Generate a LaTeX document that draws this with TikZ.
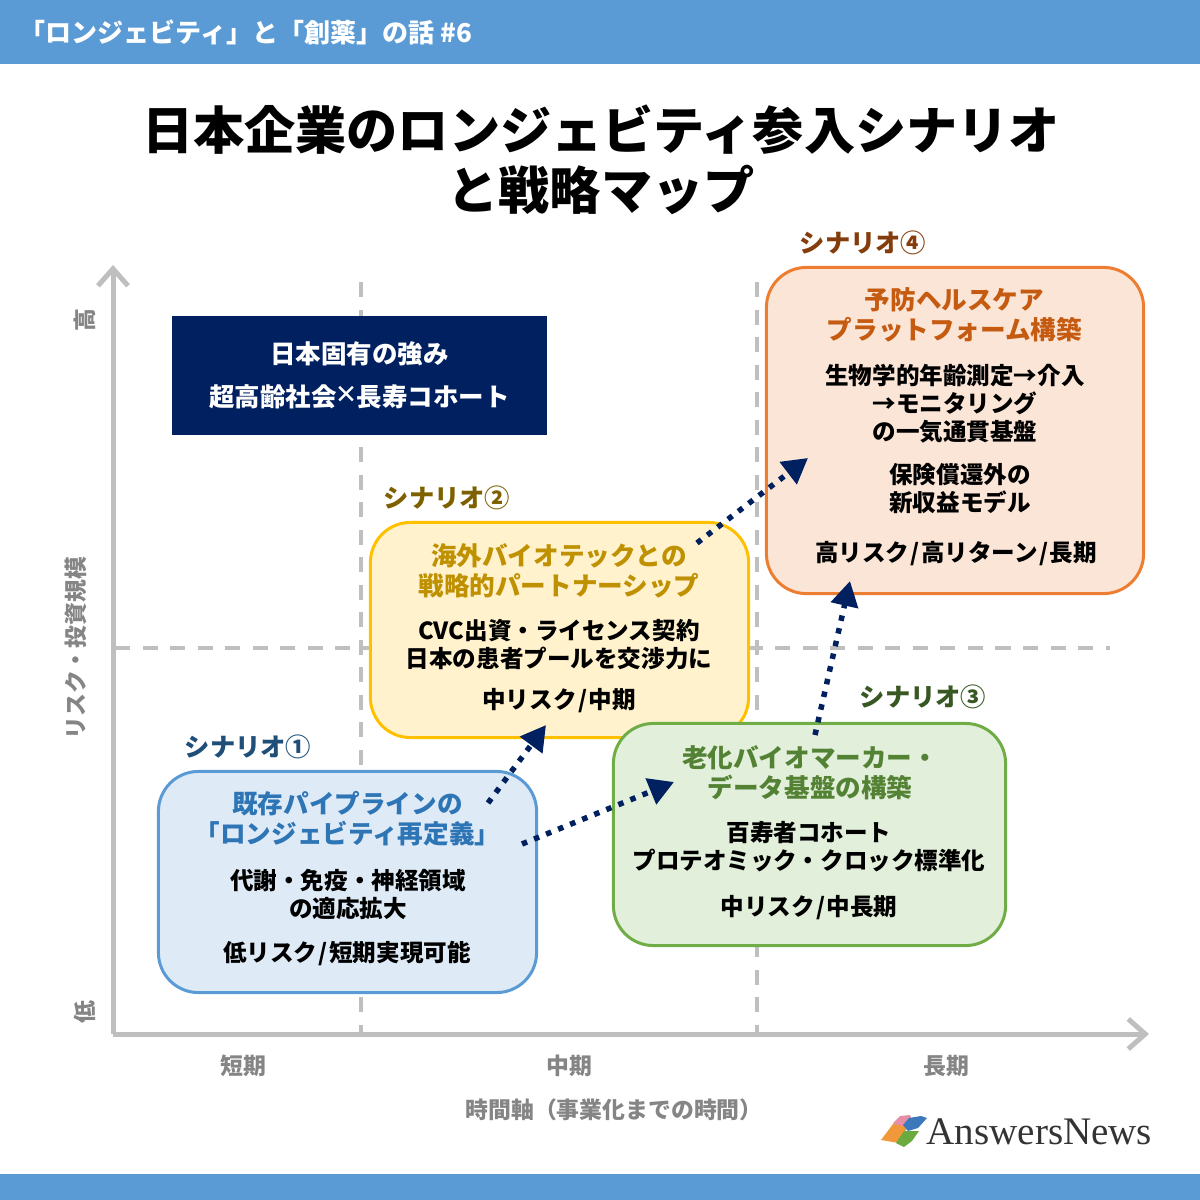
\documentclass[tikz,border=0pt]{standalone}
\usepackage{fontspec}
\setmainfont{Noto Sans CJK JP}
\newfontfamily\logofont{Liberation Serif}
\newfontfamily\signfont{Noto Sans}
\usetikzlibrary{arrows.meta}

\definecolor{barblue}{HTML}{5B9BD5}
\definecolor{navy}{HTML}{002060}
\definecolor{axisgray}{HTML}{BFBFBF}
\definecolor{labelgray}{HTML}{858585}
\definecolor{fillA}{HTML}{DEEAF6}
\definecolor{fillB}{HTML}{FFF2CC}
\definecolor{fillC}{HTML}{E2EFDA}
\definecolor{fillD}{HTML}{FBE5D6}
\definecolor{edgeA}{HTML}{5B9BD5}
\definecolor{edgeB}{HTML}{FFC000}
\definecolor{edgeC}{HTML}{70AD47}
\definecolor{edgeD}{HTML}{ED7D31}
\definecolor{tagA}{HTML}{1F4E79}
\definecolor{tagB}{HTML}{7F6000}
\definecolor{tagC}{HTML}{385723}
\definecolor{tagD}{HTML}{843C0C}
\definecolor{headA}{HTML}{2E75B6}
\definecolor{headB}{HTML}{BF9000}
\definecolor{headC}{HTML}{548235}
\definecolor{headD}{HTML}{C55A11}
\definecolor{pieceP}{HTML}{E58FA6}
\definecolor{pieceO}{HTML}{F0983A}
\definecolor{pieceG}{HTML}{6BAA3E}
\definecolor{pieceB}{HTML}{3B78BC}

\newcommand{\sla}{\kern0.4pt/\kern0.4pt}

\tikzset{
  scenbox/.style={draw=#1,line width=0.03cm,rounded corners=0.4cm,inner sep=0pt},
  scentag/.style={text=#1,font=\fontsize{7.2}{9}\selectfont\bfseries},
  scenhead/.style={text=#1,align=center,font=\fontsize{7.28}{8.55}\selectfont\bfseries},
  scenbody/.style={text=black,align=center,font=\fontsize{6.7}{7.97}\selectfont\bfseries},
  axislabel/.style={text=labelgray,font=\fontsize{6.5}{8}\selectfont\bfseries},
  grid/.style={draw=axisgray,line width=0.033cm,dash pattern=on 0.15cm off 0.125cm},
  axis/.style={draw=axisgray,line width=0.05cm,-{Straight Barb[length=0.17cm,width=0.3cm,line width=0.05cm]}},
  step arrow/.style={draw=navy,line width=0.055cm,dash pattern=on 0.055cm off 0.075cm,-{Triangle[length=0.25cm,width=0.27cm]}},
}

\begin{document}
\begin{tikzpicture}[x=0.01cm,y=-0.01cm]
\useasboundingbox (0,0) rectangle (1200,1200);
\fill[barblue] (0,0) rectangle (1200,64);
\fill[barblue] (0,1174) rectangle (1200,1200);
\node[anchor=west,inner sep=0pt,text=white,font=\fontsize{7.4}{9}\selectfont\bfseries] (header) at (19,32) {「ロンジェビティ」と「創薬」の話 \#6};
\node[align=center,inner sep=0pt,font=\fontsize{14.55}{17.1}\selectfont\bfseries] (title) at (601,160) {日本企業のロンジェビティ参入シナリオ\\と戦略マップ};

% axes and quadrant lines
\draw[grid] (361,282) -- (361,1034);
\draw[grid] (757,282) -- (757,1034);
\draw[grid] (115,648) -- (1110,648);
\coordinate (origin) at (113,1034);
\coordinate (yend) at (113,265);
\coordinate (xend) at (1149,1034);
\draw[axis] (origin) -- (yend);
\draw[axis] (origin) -- (xend);

\node[axislabel] (short) at (243,1066) {短期};
\node[axislabel] (middle) at (569,1066) {中期};
\node[axislabel] (long) at (946,1066) {長期};
\node[axislabel] (xlabel) at (614,1110) {時間軸（事業化までの時間）};
\node[axislabel,rotate=90] (high) at (85,320) {高};
\node[axislabel,rotate=90] (low) at (85,1012) {低};
\node[axislabel,rotate=90] (ylabel) at (76,648) {リスク・投資規模};

\node[fill=navy,minimum width=3.75cm,minimum height=1.19cm,inner sep=0pt] (strength) at (359.5,375.5) {};
\node[text=white,align=center,font=\fontsize{7.25}{12.2}\selectfont\bfseries] (strengthtext) at (359.5,375.5) {日本固有の強み\\超高齢社会{\signfont\fontsize{10}{12.2}\selectfont ×}長寿コホート};

% scenario boxes
\node[scenbox=edgeA,fill=fillA,minimum width=3.78cm,minimum height=2.21cm] (boxA) at (347.5,882) {};
\node[scenbox=edgeB,fill=fillB,minimum width=3.78cm,minimum height=2.15cm] (boxB) at (559.5,630) {};
\node[scenbox=edgeC,fill=fillC,minimum width=3.92cm,minimum height=2.22cm] (boxC) at (809.5,834.5) {};
\node[scenbox=edgeD,fill=fillD,minimum width=3.77cm,minimum height=3.26cm] (boxD) at (955,430.5) {};

\node[scentag=tagA] (labelA) at (248,747) {シナリオ①};
\node[scenhead=headA] (titleA) at (347.5,819) {既存パイプラインの\\「ロンジェビティ再定義」};
\node[scenbody] (bodyA) at (348,894) {代謝・免疫・神経領域\\の適応拡大};
\node[scenbody] (riskA) at (347,953) {低リスク\sla 短期実現可能};

\node[scentag=tagB] (labelB) at (447,498) {シナリオ②};
\node[scenhead=headB] (titleB) at (559,570.5) {海外バイオテックとの\\戦略的パートナーシップ};
\node[scenbody] (bodyB) at (559,645) {CVC出資・ライセンス契約\\日本の患者プールを交渉力に};
\node[scenbody] (riskB) at (559,701) {中リスク\sla 中期};

\node[scentag=tagC] (labelC) at (923,697) {シナリオ③};
\node[scenhead=headC] (titleC) at (810,773) {老化バイオマーカー・\\データ基盤の構築};
\node[scenbody] (bodyC) at (809,847) {百寿者コホート\\プロテオミック・クロック標準化};
\node[scenbody] (riskC) at (809,908) {中リスク\sla 中長期};

\node[scentag=tagD] (labelD) at (863,243) {シナリオ④};
\node[scenhead=headD] (titleD) at (954.5,315) {予防ヘルスケア\\プラットフォーム構築};
\node[scenbody] (bodyD) at (955,404) {生物学的年齢測定→介入\\→モニタリング\\の一気通貫基盤};
\node[scenbody] (modelD) at (960,489) {保険償還外の\\新収益モデル};
\node[scenbody] (riskD) at (956,554) {高リスク\sla 高リターン\sla 長期};

% dotted steps between scenarios
\coordinate (stepAs) at (488,803);
\coordinate (stepAe) at (546,725);
\coordinate (stepBs) at (522,844);
\coordinate (stepBe) at (674,782);
\coordinate (stepCs) at (815,735);
\coordinate (stepCe) at (850,581);
\coordinate (stepDs) at (697,543);
\coordinate (stepDe) at (808,458);
\draw[step arrow] (stepAs) -- (stepAe);
\draw[step arrow] (stepBs) -- (stepBe);
\draw[step arrow] (stepCs) -- (stepCe);
\draw[step arrow] (stepDs) -- (stepDe);

% logo
\fill[pieceP] (893,1123) -- (900,1116) -- (910,1115) -- (912,1120) -- (907,1128) -- (897,1128) -- cycle;
\fill[pieceO] (881,1140) -- (893,1124) -- (908,1127) -- (903,1134) -- (899,1143) -- cycle;
\fill[pieceG] (896,1143) -- (904,1131) -- (919,1131) -- (912,1141) -- (904,1147) -- cycle;
\fill[pieceB] (903,1125) -- (909,1118) -- (921,1116) -- (927,1118) -- (918,1128) -- (908,1131) -- cycle;
\node[anchor=west,inner sep=0pt,text=black!80,font=\logofont\fontsize{11.1}{13}\selectfont] (logo) at (926,1132) {AnswersNews};
\end{tikzpicture}
\end{document}
